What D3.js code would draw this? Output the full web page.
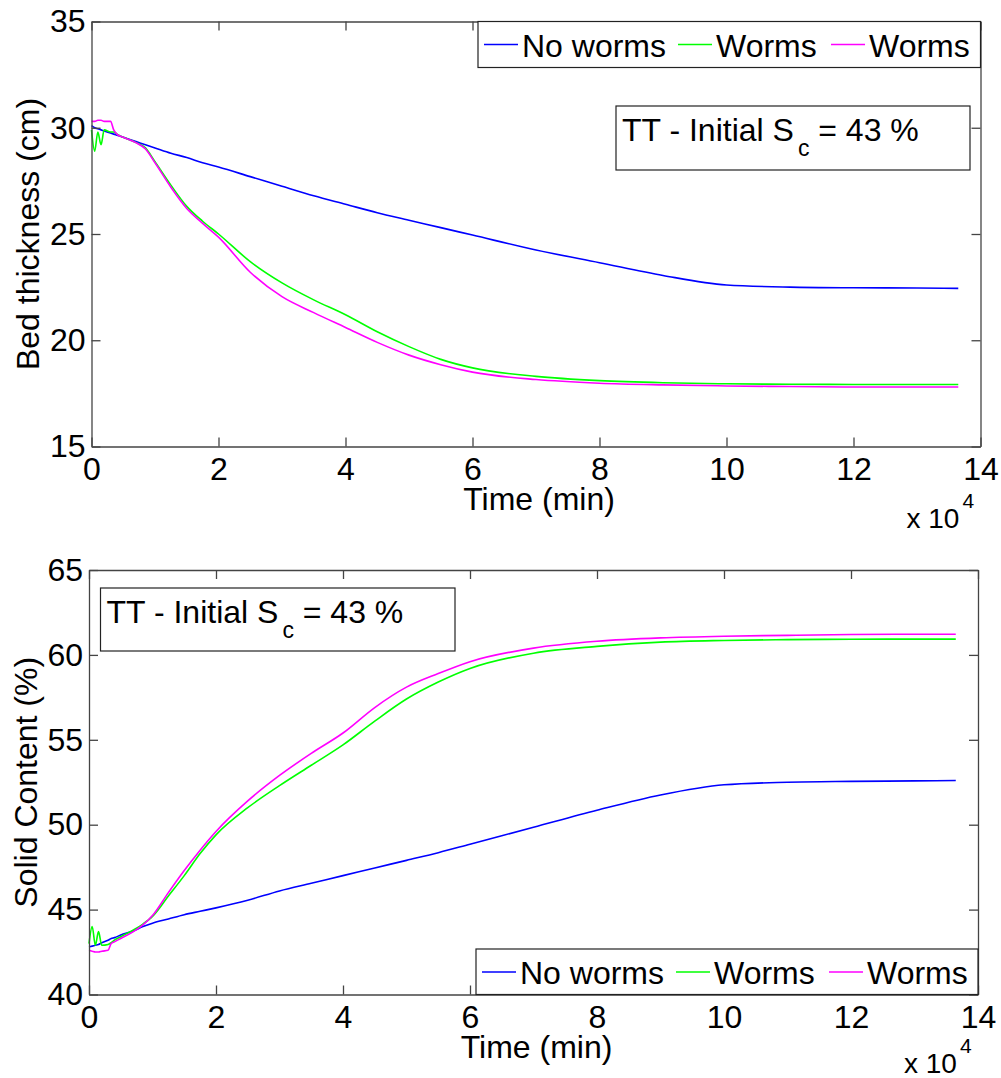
<!DOCTYPE html>
<html>
<head>
<meta charset="utf-8">
<script src="https://cdn.jsdelivr.net/npm/d3@7"></script>
<style>
  body { margin: 0; background: #fff; }
  svg { display: block; font-family: Arial, 'Liberation Sans', sans-serif; }
</style>
</head>
<body>
<svg id="chart" width="1001" height="1078"></svg>
<script>
// time in units of 10^4 min
const time = [0, 0.05, 0.1, 0.15, 0.2, 0.3, 0.35, 0.4, 0.5, 0.7, 0.85, 1, 1.25, 1.5, 1.75, 2, 2.5, 3, 3.5, 4, 4.5, 5, 5.5, 6, 7, 8, 9, 10, 11, 12, 13, 13.65];

// bed thickness (cm)
const bedNoWorms = [30.1, 30.0, 29.95, 29.9, 29.85, 29.75, 29.7, 29.65, 29.55, 29.35, 29.2, 29.05, 28.8, 28.6, 28.35, 28.15, 27.7, 27.25, 26.8, 26.4, 26.0, 25.65, 25.3, 24.95, 24.25, 23.65, 23.05, 22.6, 22.5, 22.47, 22.46, 22.44];
const bedWormsA = [29.9, 28.9, 29.8, 29.2, 29.9, 29.8, 29.8, 29.7, 29.55, 29.3, 29.05, 28.4, 27.3, 26.3, 25.6, 25.0, 23.7, 22.7, 21.9, 21.2, 20.4, 19.7, 19.1, 18.7, 18.3, 18.1, 18.0, 17.95, 17.93, 17.92, 17.92, 17.92];
const bedWormsB = [30.3, 30.3, 30.35, 30.35, 30.3, 30.3, 29.9, 29.7, 29.55, 29.3, 29.0, 28.35, 27.2, 26.2, 25.5, 24.85, 23.2, 22.05, 21.3, 20.6, 19.9, 19.3, 18.85, 18.5, 18.15, 17.98, 17.9, 17.85, 17.82, 17.8, 17.8, 17.8];

// solid content (%)
const scNoWorms = [42.8, 42.85, 42.9, 42.95, 43.05, 43.2, 43.3, 43.35, 43.5, 43.75, 44.0, 44.2, 44.45, 44.7, 44.9, 45.1, 45.55, 46.1, 46.55, 47.0, 47.45, 47.9, 48.35, 48.85, 49.85, 50.85, 51.75, 52.35, 52.5, 52.55, 52.58, 52.6];
const scWormsA = [43.0, 44.0, 42.9, 43.7, 42.9, 42.95, 43.05, 43.2, 43.4, 43.8, 44.15, 44.6, 45.8, 47.0, 48.3, 49.4, 51.0, 52.3, 53.5, 54.7, 56.1, 57.4, 58.4, 59.2, 60.1, 60.5, 60.75, 60.85, 60.9, 60.92, 60.93, 60.93];
const scWormsB = [42.6, 42.55, 42.5, 42.5, 42.55, 42.6, 43.0, 43.1, 43.3, 43.7, 44.1, 44.65, 46.0, 47.3, 48.5, 49.6, 51.4, 52.9, 54.2, 55.4, 56.9, 58.1, 58.9, 59.6, 60.4, 60.8, 61.0, 61.1, 61.15, 61.2, 61.22, 61.22];

const seriesNames = ['No worms', 'Worms', 'Worms'];
const seriesColors = ['#0000ff', '#00ff00', '#ff00ff'];
const xTicks = [0, 2, 4, 6, 8, 10, 12, 14];
const bedTicks = [15, 20, 25, 30, 35];
const scTicks = [40, 45, 50, 55, 60, 65];

const svg = d3.select('#chart');
const fontSize = 32;

function drawPanel(p) {
  const x = d3.scaleLinear().domain([0, 14]).range([p.left, p.right]);
  const y = d3.scaleLinear().domain(p.yDomain).range([p.bottom, p.top]);
  const g = svg.append('g');

  // curves
  const line = d3.line().curve(d3.curveMonotoneX).x(d => x(d[0])).y(d => y(d[1]));
  p.series.forEach((vals, i) => {
    g.append('path')
      .datum(time.map((t, k) => [t, vals[k]]))
      .attr('fill', 'none')
      .attr('stroke', seriesColors[i])
      .attr('stroke-width', 1.6)
      .attr('d', line);
  });

  // axes (box with inward ticks)
  const axes = [
    [d3.axisBottom(x).tickValues(xTicks).tickFormat(d3.format('d')), `translate(0,${p.bottom})`, 11],
    [d3.axisTop(x).tickValues(xTicks).tickFormat(''), `translate(0,${p.top})`, 0],
    [d3.axisLeft(y).tickValues(p.yTicks).tickFormat(d3.format('d')), `translate(${p.left},0)`, 6],
    [d3.axisRight(y).tickValues(p.yTicks).tickFormat(''), `translate(${p.right},0)`, 0]
  ];
  axes.forEach(([ax, tr, pad]) => {
    const a = g.append('g').attr('transform', tr)
      .call(ax.tickSizeInner(-9).tickSizeOuter(0).tickPadding(pad));
    a.select('.domain').attr('stroke', '#444').attr('stroke-width', 1.3);
    a.selectAll('.tick line').attr('stroke', '#444').attr('stroke-width', 1.3);
    a.selectAll('.tick text').attr('fill', '#000')
      .style('font-size', fontSize + 'px').style('font-family', 'Arial, Liberation Sans, sans-serif');
  });

  // axis labels
  g.append('text')
    .attr('x', (p.left + p.right) / 2 + 3).attr('y', p.bottom + 63)
    .attr('text-anchor', 'middle').style('font-size', fontSize + 'px')
    .text('Time (min)');
  g.append('text')
    .attr('transform', `translate(${p.labelX},${(p.top + p.bottom) / 2}) rotate(-90)`)
    .attr('text-anchor', 'middle').style('font-size', fontSize + 'px')
    .text(p.yLabel);

  // x 10^4
  const ex = g.append('text').attr('x', p.right - 74).attr('y', Math.min(p.bottom + 81, 1073))
    .style('font-size', '28px');
  ex.append('tspan').text('x 10');
  ex.append('tspan').attr('dy', -20).attr('dx', 3).style('font-size', '21px').text('4');

  // annotation box
  const b = p.note;
  g.append('rect')
    .attr('x', b.x).attr('y', b.y).attr('width', b.w).attr('height', b.h)
    .attr('fill', '#fff').attr('stroke', '#222').attr('stroke-width', 1.2);
  const nt = g.append('text').attr('x', b.x + 6).attr('y', b.y + 35)
    .style('font-size', fontSize + 'px');
  nt.append('tspan').text('TT - Initial S');
  nt.append('tspan').attr('dx', 4).attr('dy', 15).style('font-size', '23px').text('c');
  nt.append('tspan').attr('dy', -15).text('\u00a0= 43 %');

  // legend
  const lg = p.legend;
  const leg = g.append('g').attr('transform', `translate(${lg.x},${lg.y})`);
  leg.append('rect').attr('width', lg.w).attr('height', lg.h)
    .attr('fill', '#fff').attr('stroke', '#222').attr('stroke-width', 1.2);
  const offsets = [6, 200, 353];
  seriesNames.forEach((name, i) => {
    leg.append('line')
      .attr('x1', offsets[i]).attr('x2', offsets[i] + 34)
      .attr('y1', 23).attr('y2', 23)
      .attr('stroke', seriesColors[i]).attr('stroke-width', 1.5);
    leg.append('text').attr('x', offsets[i] + 38).attr('y', 35)
      .style('font-size', fontSize + 'px').text(name);
  });
}

drawPanel({
  left: 91.5, right: 980.5, top: 21.5, bottom: 446.5,
  yDomain: [15, 35], yTicks: bedTicks, yLabel: 'Bed thickness (cm)', labelX: 39,
  series: [bedNoWorms, bedWormsA, bedWormsB],
  note: {x: 616, y: 106, w: 354, h: 64},
  legend: {x: 478, y: 21.5, w: 502.5, h: 46}
});

drawPanel({
  left: 89, right: 978, top: 570, bottom: 994.5,
  yDomain: [40, 65], yTicks: scTicks, yLabel: 'Solid Content (%)', labelX: 37,
  series: [scNoWorms, scWormsA, scWormsB],
  note: {x: 100.5, y: 588, w: 354.5, h: 63},
  legend: {x: 476, y: 949, w: 502, h: 45.5}
});
</script>
</body>
</html>
